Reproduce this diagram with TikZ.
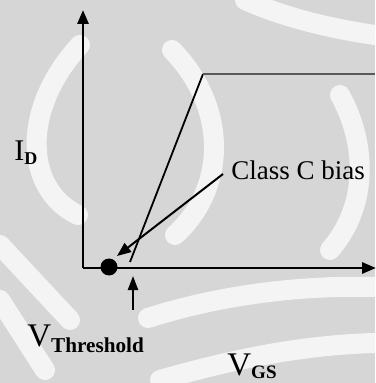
\documentclass[tikz,border=0pt]{standalone}
\usepackage{fontspec}
\setmainfont{Liberation Serif}
\usetikzlibrary{arrows.meta}
\begin{document}
\begin{tikzpicture}[x=0.5pt,y=-0.5pt,
  axis/.style={line width=1.4pt,-{Triangle[length=7pt,width=5.5pt]}},
  wm/.style={white,opacity=0.75,line width=10pt,line cap=round},
  lbl/.style={inner sep=0pt,anchor=base west}]
\fill[gray!32] (0,0) rectangle (375,383);
\useasboundingbox (0,0) rectangle (375,383);
% watermark arcs
\draw[wm] (80,45) .. controls (20,110) and (25,190) .. (78,215);
\draw[wm] (172,50) .. controls (230,110) and (225,190) .. (175,235);
\draw[wm] (340,95) .. controls (370,150) and (365,210) .. (330,250);
\draw[wm] (245,0) .. controls (290,20) and (340,30) .. (375,35);
\draw[wm] (148,318) .. controls (220,295) and (300,285) .. (375,287);
\draw[wm] (160,380) .. controls (230,360) and (300,345) .. (375,343);
\draw[wm] (0,245) -- (70,320);
\draw[wm] (0,300) -- (45,370);
% axes
\coordinate (O) at (83,268);
\coordinate (Ytop) at (83,10);
\coordinate (Xend) at (376,268);
\draw[axis] (O) -- (Ytop);
\draw[axis] (O) -- (Xend);
% transfer curve
\coordinate (K) at (203,74);
\coordinate (R) at (375,74);
\coordinate (F) at (130,262);
\draw[line width=0.9pt] (F) -- (K);
\draw[line width=1.2pt,black!65] (K) -- (R);
% dot
\node[circle,fill=black,minimum size=8.5pt,inner sep=0pt] (dot) at (109,267) {};
% class C bias arrow
\node[lbl,font=\fontsize{13.5}{15}\selectfont] (cc) at (231,180) {Class C bias};
\coordinate (ccs) at (223,174);
\coordinate (cct) at (117,256);
\draw[line width=1pt,-{Triangle[length=7pt,width=5.5pt]}] (ccs) -- (cct);
% threshold arrow
\coordinate (ta) at (133,310);
\coordinate (tb) at (133,276);
\draw[line width=1.1pt,-{Triangle[length=7pt,width=5pt]}] (ta) -- (tb);
% labels
\node[lbl] (id) at (14,161) {\fontsize{15}{16}\selectfont I\raisebox{-2pt}{\fontsize{9}{10}\selectfont\bfseries D}};
\node[lbl] (vth) at (27,346) {\fontsize{16.5}{17}\selectfont V\raisebox{-3pt}{\fontsize{10.6}{11}\selectfont\bfseries Threshold}};
\node[lbl] (vgs) at (227,375) {\fontsize{16.5}{17}\selectfont V\raisebox{-1.5pt}{\fontsize{9.5}{10}\selectfont\bfseries GS}};
\end{tikzpicture}
\end{document}
